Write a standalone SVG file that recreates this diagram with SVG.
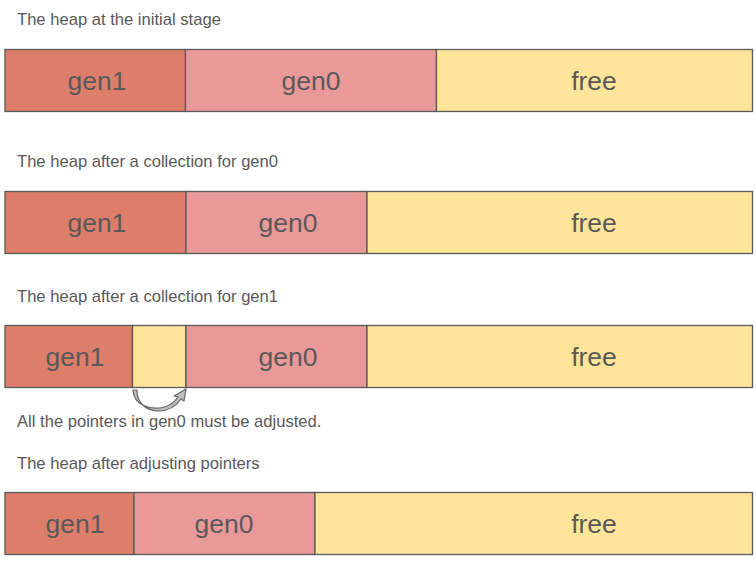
<svg xmlns="http://www.w3.org/2000/svg" width="756" height="562" viewBox="0 0 756 562">
<style>
.t{font-family:"Liberation Sans",Arial,sans-serif;font-size:16.6px;fill:#595959}
.l{font-family:"Liberation Sans",Arial,sans-serif;font-size:26.5px;fill:#595959;text-anchor:middle}
.g1{fill:#dd7e6b;stroke:#595959;stroke-width:1.3}
.g0{fill:#ea9999;stroke:#595959;stroke-width:1.3}
.fr{fill:#ffe599;stroke:#595959;stroke-width:1.3}
</style>
<rect width="756" height="562" fill="#ffffff"/>
<text class="t" x="17" y="25">The heap at the initial stage</text>
<text class="t" x="17" y="167">The heap after a collection for gen0</text>
<text class="t" x="17" y="302">The heap after a collection for gen1</text>
<text class="t" x="17" y="427">All the pointers in gen0 must be adjusted.</text>
<text class="t" x="17" y="469">The heap after adjusting pointers</text>
<g id="row1">
<g id="r1-gen1"><rect class="g1" x="5" y="49.5" width="180.5" height="62"/><text class="l" x="97" y="90">gen1</text></g>
<g id="r1-gen0"><rect class="g0" x="185.5" y="49.5" width="251" height="62"/><text class="l" x="311" y="90">gen0</text></g>
<g id="r1-free"><rect class="fr" x="436.5" y="49.5" width="316" height="62"/><text class="l" x="594" y="90">free</text></g>
</g>
<g id="row2">
<g id="r2-gen1"><rect class="g1" x="5" y="191.5" width="181" height="62"/><text class="l" x="97" y="232">gen1</text></g>
<g id="r2-gen0"><rect class="g0" x="186" y="191.5" width="181" height="62"/><text class="l" x="288" y="232">gen0</text></g>
<g id="r2-free"><rect class="fr" x="367" y="191.5" width="385.5" height="62"/><text class="l" x="594" y="232">free</text></g>
</g>
<g id="row3">
<g id="r3-gen1"><rect class="g1" x="5" y="325.5" width="127.5" height="62"/><text class="l" x="75" y="366">gen1</text></g>
<g id="r3-hole"><rect class="fr" x="132.5" y="325.5" width="53.5" height="62"/></g>
<g id="r3-gen0"><rect class="g0" x="186" y="325.5" width="181" height="62"/><text class="l" x="288" y="366">gen0</text></g>
<g id="r3-free"><rect class="fr" x="367" y="325.5" width="385.5" height="62"/><text class="l" x="594" y="366">free</text></g>
</g>
<g id="row4">
<g id="r4-gen1"><rect class="g1" x="5" y="492.5" width="129" height="62"/><text class="l" x="75" y="533">gen1</text></g>
<g id="r4-gen0"><rect class="g0" x="134" y="492.5" width="181" height="62"/><text class="l" x="224" y="533">gen0</text></g>
<g id="r4-free"><rect class="fr" x="315" y="492.5" width="437.5" height="62"/><text class="l" x="594" y="533">free</text></g>
</g>
<g id="connectors">
<path d="M133,390 C134,406 150,409 160,408 C168,407 174,403 178,397 L174,396 L186,389 L184,401 L181,399 C176,406 168,411 159,411 C147,411 137,404 137,390 Z" fill="#bdbdbd" stroke="#666666" stroke-width="1.2" stroke-linejoin="round"/>
</g>
</svg>
